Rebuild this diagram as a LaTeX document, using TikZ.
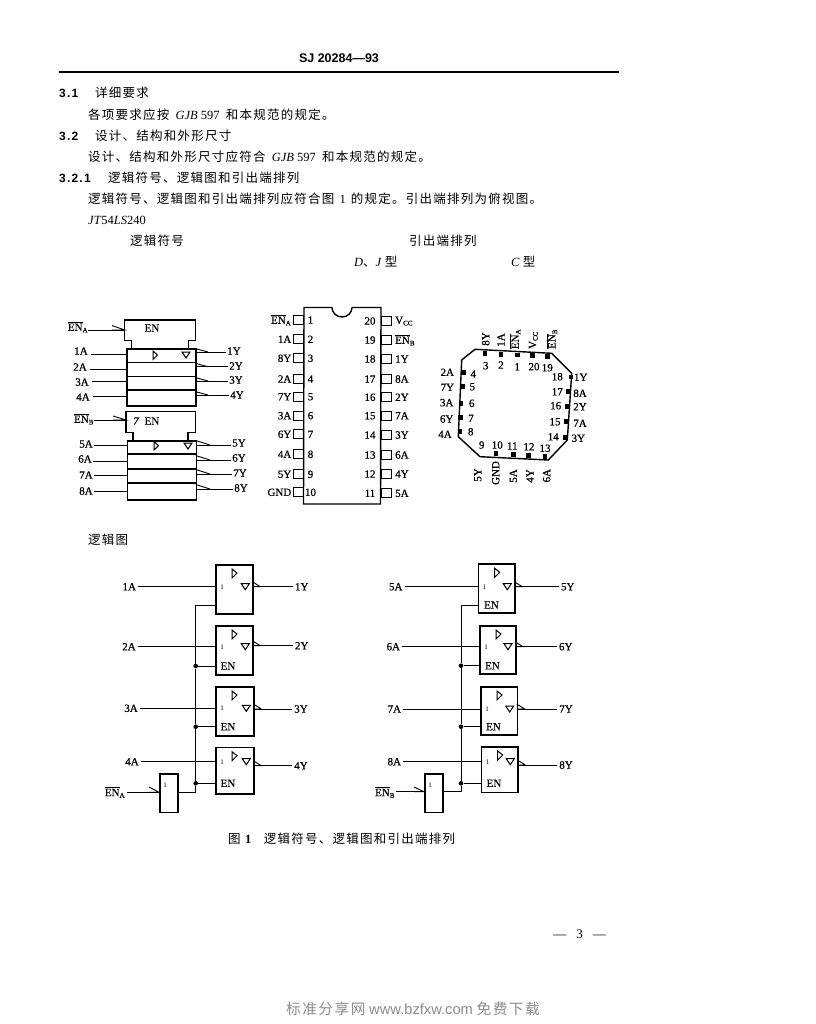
\documentclass[tikz,border=0pt]{standalone}
\usepackage{fontspec}
\setmainfont{Liberation Serif}
\newfontfamily\cjk[LetterSpace=10]{Noto Sans CJK SC}
\newfontfamily\hd{Liberation Sans}
\newfontfamily\lb[FakeBold=0.6]{Liberation Serif}
\newfontfamily\secno[LetterSpace=10]{Liberation Sans Bold}
\newcommand{\ENx}[1]{$\overline{\mbox{EN}}_{\mbox{\fontsize{7}{8}\selectfont #1}}$}
\newcommand{\Vcc}{V$_{\mbox{\fontsize{7}{8}\selectfont CC}}$}
\tikzset{
  lab/.style={inner sep=0pt,font=\lb\fontsize{11}{12}\selectfont},
  pin/.style={inner sep=0pt,font=\lb\fontsize{11}{12}\selectfont},
  para/.style={inner sep=0pt,anchor=west,font=\fontsize{12.5}{14}\selectfont},
  secn/.style={inner sep=0pt,anchor=west,font=\secno\fontsize{12}{13}\selectfont},
  wire/.style={line width=1pt},
  box/.style={draw,line width=1.5pt,fill=none},
  thinbox/.style={draw,line width=1pt},
  dot/.style={circle,fill=black,inner sep=0pt,minimum size=4.6pt},
  sq/.style={fill=black,inner sep=0pt,minimum size=4.8pt},
}
% name, x1, y1, x2, y2, inY, outY, enY
\newcommand{\bufgate}[8]{%
  \node[box,anchor=north west,minimum width=#4pt-#2pt,minimum height=#5pt-#3pt,inner sep=0pt] (#1) at (#2,#3) {};
  \draw[line width=1pt] (#2+17,#3+5) -- (#2+22,#3+9) -- (#2+17,#3+14) -- cycle;
  \draw[line width=1pt] (#4-11,#6-3) -- (#4-3,#6-3) -- (#4-7,#6+3) -- cycle;
  \node[inner sep=0pt,font=\fontsize{7}{8}\selectfont] at (#2+7,#6) {1};
  \draw[line width=0.9pt] (#4,#7-5) -- (#4+8,#7) -- (#4,#7);
}
\newcommand{\invbox}[5]{%
  \node[box,anchor=north west,minimum width=#4pt-#2pt,minimum height=#5pt-#3pt,inner sep=0pt] (#1) at (#2,#3) {};
  \node[inner sep=0pt,font=\fontsize{7}{8}\selectfont] at (#2+6,#3+12) {1};
}
\begin{document}
\begin{tikzpicture}[x=1pt,y=-1pt]
\useasboundingbox (0,0) rectangle (815,1024);
\fill[white] (0,0) rectangle (815,1024);
%% header
\node[inner sep=0pt,font=\hd\bfseries\fontsize{12.5}{13}\selectfont] (hdr) at (339,58) {SJ 20284—93};
\coordinate (ruleL) at (59,72); \coordinate (ruleR) at (619,72);
\draw[line width=1.6pt] (ruleL) -- (ruleR);
%% paragraphs
\node[secn] (s31) at (59,93) {3.1};
\node[para] (s31t) at (95,93) {\cjk 详细要求};
\node[para] (p1) at (88,115) {{\cjk 各项要求应按}\hspace{3pt} \textit{GJB} 597\hspace{3pt} {\cjk 和本规范的规定。}};
\node[secn] (s32) at (59,136) {3.2};
\node[para] (s32t) at (95,136) {\cjk 设计、结构和外形尺寸};
\node[para] (p2) at (88,157) {{\cjk 设计、结构和外形尺寸应符合}\hspace{3pt} \textit{GJB} 597\hspace{3pt} {\cjk 和本规范的规定。}};
\node[secn] (s321) at (59,178) {3.2.1};
\node[para] (s321t) at (108,178) {\cjk 逻辑符号、逻辑图和引出端排列};
\node[para] (p3) at (88,199) {{\cjk 逻辑符号、逻辑图和引出端排列应符合图}\hspace{2pt} 1\hspace{2pt} {\cjk 的规定。引出端排列为俯视图。}};
\node[para] (jt) at (88,220) {\textit{JT}54\textit{LS}240};
\node[para] (h1) at (130,241) {\cjk 逻辑符号};
\node[para] (h2) at (409,241) {\cjk 引出端排列};
\node[para] (h3) at (354,262) {\textit{D}{\cjk 、}\textit{J} {\cjk 型}};
\node[para] (h4) at (511,262) {\textit{C} {\cjk 型}};
\node[para] (h5) at (88,540) {\cjk 逻辑图};
\node[para] (cap) at (228,839) {{\cjk 图} \textbf{1}\quad{\cjk 逻辑符号、逻辑图和引出端排列}};
\node[inner sep=0pt,font=\fontsize{13}{14}\selectfont] (pg) at (579.5,934) {—\hspace{10pt}3\hspace{10pt}—};
\node[inner sep=0pt,text=black!45,font=\fontsize{14.7}{17}\selectfont] (ft) at (413,1009) {{\cjk 标准分享网} {\hd www.bzfxw.com} {\cjk 免费下载}};

%% === logic symbol A ===
\draw[line width=1.4pt] (124.7,340.7) -- (124.7,320) -- (195.7,320) -- (195.7,340.7) -- (188.3,340.7) -- (188.3,348.3)
      (124.7,340.7) -- (131.7,340.7) -- (131.7,348.3);
\node[box,anchor=north west,minimum width=69pt,minimum height=57pt,inner sep=0pt] (symA) at (126,348.3) {};
\coordinate (enAbox) at (124.7,330);
\foreach \y in {362.3,376.7,390} \draw[line width=1.5pt] (126,\y) -- (195,\y);
\draw[line width=1pt] (153,351) -- (157.5,355) -- (153,359.5) -- cycle;
\draw[line width=1pt] (182,352) -- (190,352) -- (186,358) -- cycle;
\node[lab] (tenA) at (152,328) {EN};
\node[lab] (lenA) at (78,327) {\ENx{A}};
\draw[wire] (lenA.east |- enAbox) -- (enAbox);
\draw[line width=0.9pt] (112,325.5) -- (124.7,330) -- (112,330);
\foreach \n/\t/\x/\y/\ly in {a1/1A/81/351/354,a2/2A/80/367/369,a3/3A/82/382/381.7,a4/4A/83/397/396.7}{
  \node[lab] (\n) at (\x,\y) {\t};
  \draw[wire] (\n.east |- 0,\ly) ++(3,0) -- (symA.west |- 0,\ly);
}
\foreach \n/\t/\x/\y/\ly in {y1/1Y/234/351/352,y2/2Y/236/366/366.7,y3/3Y/236/380/381,y4/4Y/237/395/395}{
  \node[lab] (\n) at (\x,\y) {\t};
  \draw[wire] (\n.west |- 0,\ly) ++(-1,0) -- (symA.east |- 0,\ly);
  \draw[line width=0.9pt] (195,\ly-3.5) -- (208,\ly);
}
%% === logic symbol B ===
\draw[line width=1.4pt] (126,432.7) -- (126,411.7) -- (195.7,411.7) -- (195.7,432.7) -- (188,432.7) -- (188,440)
      (126,432.7) -- (133,432.7) -- (133,440);
\node[box,anchor=north west,minimum width=69pt,minimum height=59pt,inner sep=0pt] (symB) at (126.7,440) {};
\coordinate (enBbox) at (126,420);
\foreach \y in {454,469,483} \draw[line width=1.5pt] (126.7,\y) -- (195.7,\y);
\draw[line width=1pt] (154,441.5) -- (158.5,445.7) -- (154,450) -- cycle;
\draw[line width=1pt] (184,443) -- (192,443) -- (188,449) -- cycle;
\node[lab] (tenB) at (152,421) {EN};
\node[lab] (t7) at (136,421) {\itshape 7};
\node[lab] (lenB) at (84,419) {\ENx{B}};
\draw[wire] (lenB.east |- enBbox) -- (enBbox);
\draw[line width=0.9pt] (113,416) -- (126,420) -- (113,420);
\foreach \n/\t/\x/\y/\ly in {a5/5A/86/444/445.7,a6/6A/85/459/461.7,a7/7A/86/475/475.7,a8/8A/86/491/491}{
  \node[lab] (\n) at (\x,\y) {\t};
  \draw[wire] (\n.east |- 0,\ly) ++(1,0) -- (symB.west |- 0,\ly);
}
\foreach \n/\t/\x/\y/\ly in {y5/5Y/239/443/445,y6/6Y/239/458/460,y7/7Y/240/473/474,y8/8Y/241/488/489}{
  \node[lab] (\n) at (\x,\y) {\t};
  \draw[wire] (\n.west |- 0,\ly) ++(-1,0) -- (symB.east |- 0,\ly);
  \draw[line width=0.9pt] (195.7,\ly-4.5) -- (210,\ly);
}
%% === DIP ===
\draw[line width=1.4pt] (332,307.5) -- (304,307.5) -- (303.5,504) -- (380.5,504) -- (381,307.5) -- (352,307.5);
\draw[line width=1.4pt] (332,307.5) arc[start angle=180,end angle=360,x radius=10pt,y radius=9.5pt];
\foreach \i/\y/\t in {1/320/{\ENx{A}},2/339.3/1A,3/358.3/8Y,4/379/2A,5/396.7/7Y,6/415.7/3A,7/434.3/6Y,8/454.3/4A,9/474.3/5Y,10/492.3/GND}{
  \node[thinbox,anchor=east,minimum width=10pt,minimum height=9pt,inner sep=0pt] (pl\i) at (304,\y) {};
  \node[pin,anchor=east] at (291.5,\y) {\t};
  \node[pin] at (310.5,\y) {\i};
}
\foreach \i/\y/\t in {20/321/{\Vcc},19/340/{\ENx{B}},18/359/1Y,17/379/8A,16/397.3/2Y,15/415.7/7A,14/435/3Y,13/455/6A,12/474/4Y,11/493.3/5A}{
  \node[thinbox,anchor=west,minimum width=10pt,minimum height=9pt,inner sep=0pt] (pr\i) at (381,\y) {};
  \node[pin,anchor=west] at (395,\y) {\t};
  \node[pin] at (370,\y) {\i};
}
%% === PLCC ===
\draw[line width=1.4pt] (475,349.3) -- (551.7,353.3) -- (571.7,373.3) -- (567.3,440) -- (548.3,460) -- (480,456.7) -- (458.3,436.7) -- (461.7,360) -- cycle;
\foreach \x/\y in {485/353.5,501/354.5,517.7/355,532.7/355.7,547.7/356.7,571/377,568.3/391.7,567.3/406.7,566.7/421.7,565.7/437.3,463.3/372.3,462.3/386.7,461/403.3,460.7/417.3,460/431.7,496/453.3,513.3/454.3,528.3/455.7,545/456.7}
  \node[sq] at (\x,\y) {};
\foreach \x/\y/\t in {485.7/365.7/3,501/365/2,517.3/366.7/1,534/366.7/20,547.3/367.7/19,557.3/376.7/18,557.3/391.7/17,555.7/405.7/16,555/421.7/15,553.3/436.7/14,473.3/374/4,472.3/386.7/5,471.7/403.3/6,471/418.3/7,470.7/431.7/8,481.7/445/9,497.3/445/10,512.3/446/11,529/446.7/12,545/448.3/13,447.3/372.3/2A,447.3/387.3/7Y,446.7/402.7/3A,446.7/419/6Y,445/434.3/4A,580.7/377.3/1Y,580/393.3/8A,580/406.7/2Y,580/423.3/7A,578.3/438.3/3Y}
  \node[pin] at (\x,\y) {\t};
\foreach \x/\y/\t in {485.7/339/8Y,501/340/1A,515/339/{\ENx{A}},533.3/340/{\Vcc},551.7/339/{\ENx{B}},477.7/475/5Y,495.7/473/GND,513.3/476/5A,530/476/4Y,546.7/475.7/6A}
  \node[pin,rotate=90] at (\x,\y) {\t};
%% === logic diagram, left ===
\bufgate{g1}{215}{564}{252.3}{613.3}{586.7}{586.7}{605}
\bufgate{g2}{215}{625}{252.3}{674}{646.7}{645.7}{666}
\bufgate{g3}{215}{686}{253.3}{735}{708.3}{709}{726.7}
\bufgate{g4}{215}{746.7}{253.3}{793.3}{761.7}{765.7}{783.3}
\invbox{invA}{159}{773.3}{177.3}{811.7}
\foreach \n/\t/\x/\y/\g in {i1/1A/129.3/586.7/g1,i2/2A/129/646.7/g2,i3/3A/131/708.3/g3,i4/4A/132/761.7/g4}{
  \node[lab] (\n) at (\x,\y) {\t};
  \draw[wire] (\n.east) ++(2,0) -- (\n.east -| \g.west);
}
\foreach \n/\t/\x/\y/\g in {o1/1Y/301.7/586.7/g1,o2/2Y/301.7/645.7/g2,o3/3Y/301/709/g3,o4/4Y/301/765.7/g4}{
  \node[lab] (\n) at (\x,\y) {\t};
  \draw[wire] (\n.west) ++(-2,0) -- (\n.west -| \g.east);
}
\foreach \g/\y in {g2/666,g3/726.7,g4/783.3}{
  \node[lab] at (228,\y) {EN};
}
\coordinate (vAtop) at (195.7,605);
\node[dot] (dA2) at (195.7,666) {};
\node[dot] (dA3) at (195.7,726.7) {};
\node[dot] (dA4) at (195.7,783.3) {};
\coordinate (vAbot) at (195.7,792.3);
\draw[wire] (g1.west |- vAtop) -- (vAtop) -- (dA2) -- (dA3) -- (dA4) -- (vAbot) -- (vAbot -| invA.east);
\draw[wire] (dA2) -- (dA2 -| g2.west);
\draw[wire] (dA3) -- (dA3 -| g3.west);
\draw[wire] (dA4) -- (dA4 -| g4.west);
\node[lab] (iEA) at (115,792.3) {\ENx{A}};
\draw[wire] (iEA.east |- vAbot) ++(2,0) -- (invA.west |- vAbot);
\draw[line width=0.9pt] (149,787) -- (159,792.3) -- (149,792.3);
%% === logic diagram, right ===
\bufgate{g5}{477.7}{563.3}{514.3}{612.3}{586.7}{586.7}{605}
\bufgate{g6}{479}{625}{515}{673.3}{646.7}{646.7}{665.7}
\bufgate{g7}{480}{686}{516.7}{734}{709}{709}{726.7}
\bufgate{g8}{480.7}{746}{517.3}{791.7}{761.7}{765}{783.3}
\invbox{invB}{424}{773.3}{442.3}{811.7}
\foreach \n/\t/\x/\y/\g in {i5/5A/395.7/586.7/g5,i6/6A/393.3/646.7/g6,i7/7A/394.3/709/g7,i8/8A/394.3/761.7/g8}{
  \node[lab] (\n) at (\x,\y) {\t};
  \draw[wire] (\n.east) ++(2,0) -- (\n.east -| \g.west);
}
\foreach \n/\t/\x/\y/\g in {o5/5Y/567.7/586.7/g5,o6/6Y/565.7/646.7/g6,o7/7Y/566/709/g7,o8/8Y/566/765/g8}{
  \node[lab] (\n) at (\x,\y) {\t};
  \draw[wire] (\n.west) ++(-2,0) -- (\n.west -| \g.east);
}
\foreach \x/\y in {491.5/605,492.5/665.7,493.5/726.7,494/783.3}{
  \node[lab] at (\x,\y) {EN};
}
\coordinate (vBtop) at (461,605);
\node[dot] (dB2) at (461,665.7) {};
\node[dot] (dB3) at (461,726.7) {};
\node[dot] (dB4) at (461,783.3) {};
\coordinate (vBbot) at (461,791.7);
\draw[wire] (g5.west |- vBtop) -- (vBtop) -- (dB2) -- (dB3) -- (dB4) -- (vBbot) -- (vBbot -| invB.east);
\draw[wire] (dB2) -- (dB2 -| g6.west);
\draw[wire] (dB3) -- (dB3 -| g7.west);
\draw[wire] (dB4) -- (dB4 -| g8.west);
\node[lab] (iEB) at (385,792.3) {\ENx{B}};
\draw[wire] (iEB.east |- vBbot) ++(1,0) -- (invB.west |- vBbot);
\draw[line width=0.9pt] (414,787) -- (424,791.7) -- (414,791.7);
\end{tikzpicture}
\end{document}
